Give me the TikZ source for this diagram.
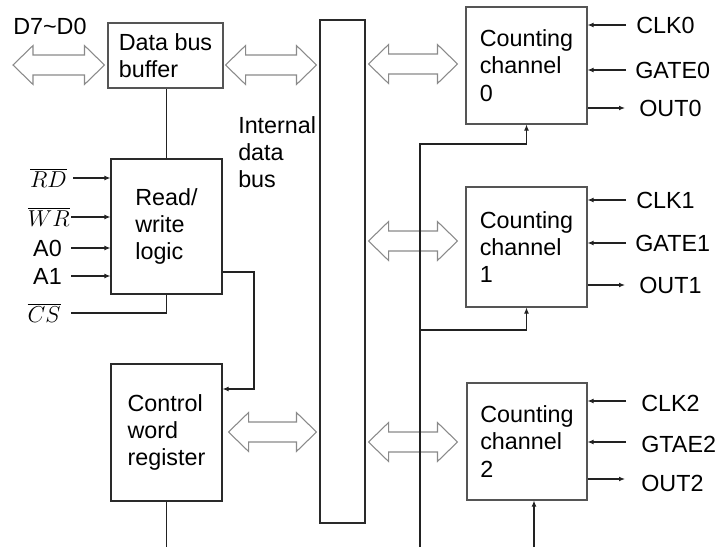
\documentclass[tikz,border=0pt]{standalone}
\usepackage{fontspec}
\setmainfont{Liberation Sans}
\usetikzlibrary{arrows.meta,calc}
\definecolor{boxc}{HTML}{2A2A2A}
\definecolor{lightbox}{HTML}{555555}
\definecolor{linec}{HTML}{222222}
\definecolor{hollowc}{HTML}{8A8A8A}
\newcommand\hollowarrow[2]{%
  \path[hollow] let \p1=(#1), \p2=(#2) in
   (\x1,\y1) -- (\x1+15pt,\y1+14.6pt) -- (\x1+15pt,\y1+7.5pt) -- (\x2-15pt,\y1+7.5pt)
   -- (\x2-15pt,\y1+14.6pt) -- (\x2,\y1) -- (\x2-15pt,\y1-14.6pt) -- (\x2-15pt,\y1-7.5pt)
   -- (\x1+15pt,\y1-7.5pt) -- (\x1+15pt,\y1-14.6pt) -- cycle;}
\begin{document}
\begin{tikzpicture}[x=0.75pt,y=-0.75pt,
  box/.style={draw=boxc,line width=0.8pt,align=left,inner sep=0pt,
              font=\fontsize{17.5}{20.5}\selectfont},
  txt/.style={inner sep=0pt,align=left,font=\fontsize{17.5}{20.5}\selectfont},
  lbl/.style={inner sep=0pt,font=\fontsize{17.5}{21}\selectfont},
  mlbl/.style={inner sep=0pt,font=\fontsize{17}{20}\selectfont},
  wire/.style={draw=linec,line width=0.8pt},
  sig/.style={wire,-{Latex[length=4.5pt,width=3.6pt]}},
  hollow/.style={draw=hollowc,fill=white,line width=0.8pt,line join=miter}]
\useasboundingbox (0,0) rectangle (715,547);

% blocks
\node[box,draw=lightbox,minimum width=86.25pt,minimum height=48.75pt] (buf) at (165.5,55.5) {Data bus\\buffer};
\node[box,minimum width=83.25pt,minimum height=101.25pt] (rw) at (166.5,226.5) {Read/\\write\\logic};
\node[box,minimum width=83.25pt,minimum height=102.75pt] (cwr) at (166.5,432.5) {Control\\word\\register};
\node[box,minimum width=33.75pt,minimum height=377.25pt] (bus) at (342.5,271.5) {};
\node[txt,anchor=north west] (ibus) at (238,116) {Internal\\data\\bus};
\node[box,draw=lightbox,minimum width=90.75pt,minimum height=87.75pt] (ch0) at (526.5,65.5) {Counting\\channel\\0};
\node[box,draw=lightbox,minimum width=90.75pt,minimum height=90pt] (ch1) at (526.5,247) {Counting\\channel\\1};
\node[box,draw=lightbox,minimum width=90pt,minimum height=87.75pt] (ch2) at (527,441.5) {Counting\\channel\\2};

% left labels
\node[lbl,anchor=west] (dd) at (13,26.5) {D7\char`\~D0};
\node[mlbl,anchor=east] (rd) at (67,178) {$\overline{RD}$};
\node[mlbl,anchor=east] (wr) at (70,217) {$\overline{WR}$};
\node[lbl,anchor=east] (a0) at (62,248) {A0};
\node[lbl,anchor=east] (a1) at (62,276) {A1};
\node[mlbl,anchor=east] (cs) at (61,313) {$\overline{CS}$};

% right labels
\node[lbl,anchor=west] (clk0) at (636,25) {CLK0};
\node[lbl,anchor=west] (gate0) at (635,70) {GATE0};
\node[lbl,anchor=west] (out0) at (639,108) {OUT0};
\node[lbl,anchor=west] (clk1) at (636,200) {CLK1};
\node[lbl,anchor=west] (gate1) at (635,243) {GATE1};
\node[lbl,anchor=west] (out1) at (639,285) {OUT1};
\node[lbl,anchor=west] (clk2) at (641,403) {CLK2};
\node[lbl,anchor=west] (gtae2) at (641,444) {GTAE2};
\node[lbl,anchor=west] (out2) at (641,483) {OUT2};

% helper coordinates
\coordinate (lx) at (71,0);
\coordinate (rx) at (626,0);
\coordinate (dL) at (13,65);
\coordinate (yb) at (0,65);
\coordinate (yc) at (0,432);
\coordinate (y0) at (0,64);
\coordinate (y1) at (0,241);
\coordinate (y2) at (0,442);
\coordinate (rwout) at (254,272);
\coordinate (cwin) at (254,389);
\coordinate (cwbot) at (168,547);
\coordinate (ctop) at (420,144);
\coordinate (cmid) at (420,330);
\coordinate (cbot) at (420,547);
\coordinate (ch2in) at (534,547);

% hollow bus arrows
\coordinate (h1a) at (dL);
\coordinate (h1b) at ($(buf.west |- yb)+(-3,0)$);
\coordinate (h2a) at ($(buf.east |- yb)+(2,0)$);
\coordinate (h2b) at ($(bus.west |- yb)+(-3,0)$);
\coordinate (h3a) at ($(cwr.east |- yc)+(6,0)$);
\coordinate (h3b) at ($(bus.west |- yc)+(-3,0)$);
\coordinate (h4a) at ($(bus.east |- y0)+(3,0)$);
\coordinate (h4b) at ($(ch0.west |- y0)+(-8,0)$);
\coordinate (h5a) at ($(bus.east |- y1)+(3,0)$);
\coordinate (h5b) at ($(ch1.west |- y1)+(-8,0)$);
\coordinate (h6a) at ($(bus.east |- y2)+(3,0)$);
\coordinate (h6b) at ($(ch2.west |- y2)+(-9,0)$);
\hollowarrow{h1a}{h1b}
\hollowarrow{h2a}{h2b}
\hollowarrow{h3a}{h3b}
\hollowarrow{h4a}{h4b}
\hollowarrow{h5a}{h5b}
\hollowarrow{h6a}{h6b}

% left wiring
\draw[wire] (rw.north) -- (rw.north |- buf.south);
\draw[sig] ([xshift=1.5pt]rd.east -| lx) -- (rw.west |- rd.east);
\draw[sig] (wr.east -| lx) -- (rw.west |- wr.east);
\draw[sig] (a0.east -| lx) -- (rw.west |- a0.east);
\draw[sig] (a1.east -| lx) -- (rw.west |- a1.east);
\draw[wire] (cs.east -| lx) -- (cs.east -| rw.south) -- (rw.south);
\draw[sig] (rw.east |- rwout) -- (rwout) -- (cwin) -- (cwr.east |- cwin);
\draw[wire] (cwr.south) -- (cwr.south |- cwbot);

% right wiring
\draw[sig] (cbot) -- (ctop) -| (ch0.south);
\draw[sig] (cmid) -| (ch1.south);
\draw[sig] (ch2in) -- (ch2in |- ch2.south);

\draw[sig] (clk0.west -| rx) -- (ch0.east |- clk0.west);
\draw[sig] (gate0.west -| rx) -- (ch0.east |- gate0.west);
\draw[sig] (ch0.east |- out0.west) -- ([xshift=-0.75pt]out0.west -| rx);
\draw[sig] (clk1.west -| rx) -- (ch1.east |- clk1.west);
\draw[sig] (gate1.west -| rx) -- (ch1.east |- gate1.west);
\draw[sig] (ch1.east |- out1.west) -- ([xshift=-0.75pt]out1.west -| rx);
\draw[sig] ([yshift=1.5pt]clk2.west -| rx) -- ([yshift=1.5pt]ch2.east |- clk2.west);
\draw[sig] ([yshift=1.5pt]gtae2.west -| rx) -- ([yshift=1.5pt]ch2.east |- gtae2.west);
\draw[sig] ([yshift=3pt]ch2.east |- out2.west) -- ([yshift=3pt,xshift=-0.75pt]out2.west -| rx);
\end{tikzpicture}
\end{document}
